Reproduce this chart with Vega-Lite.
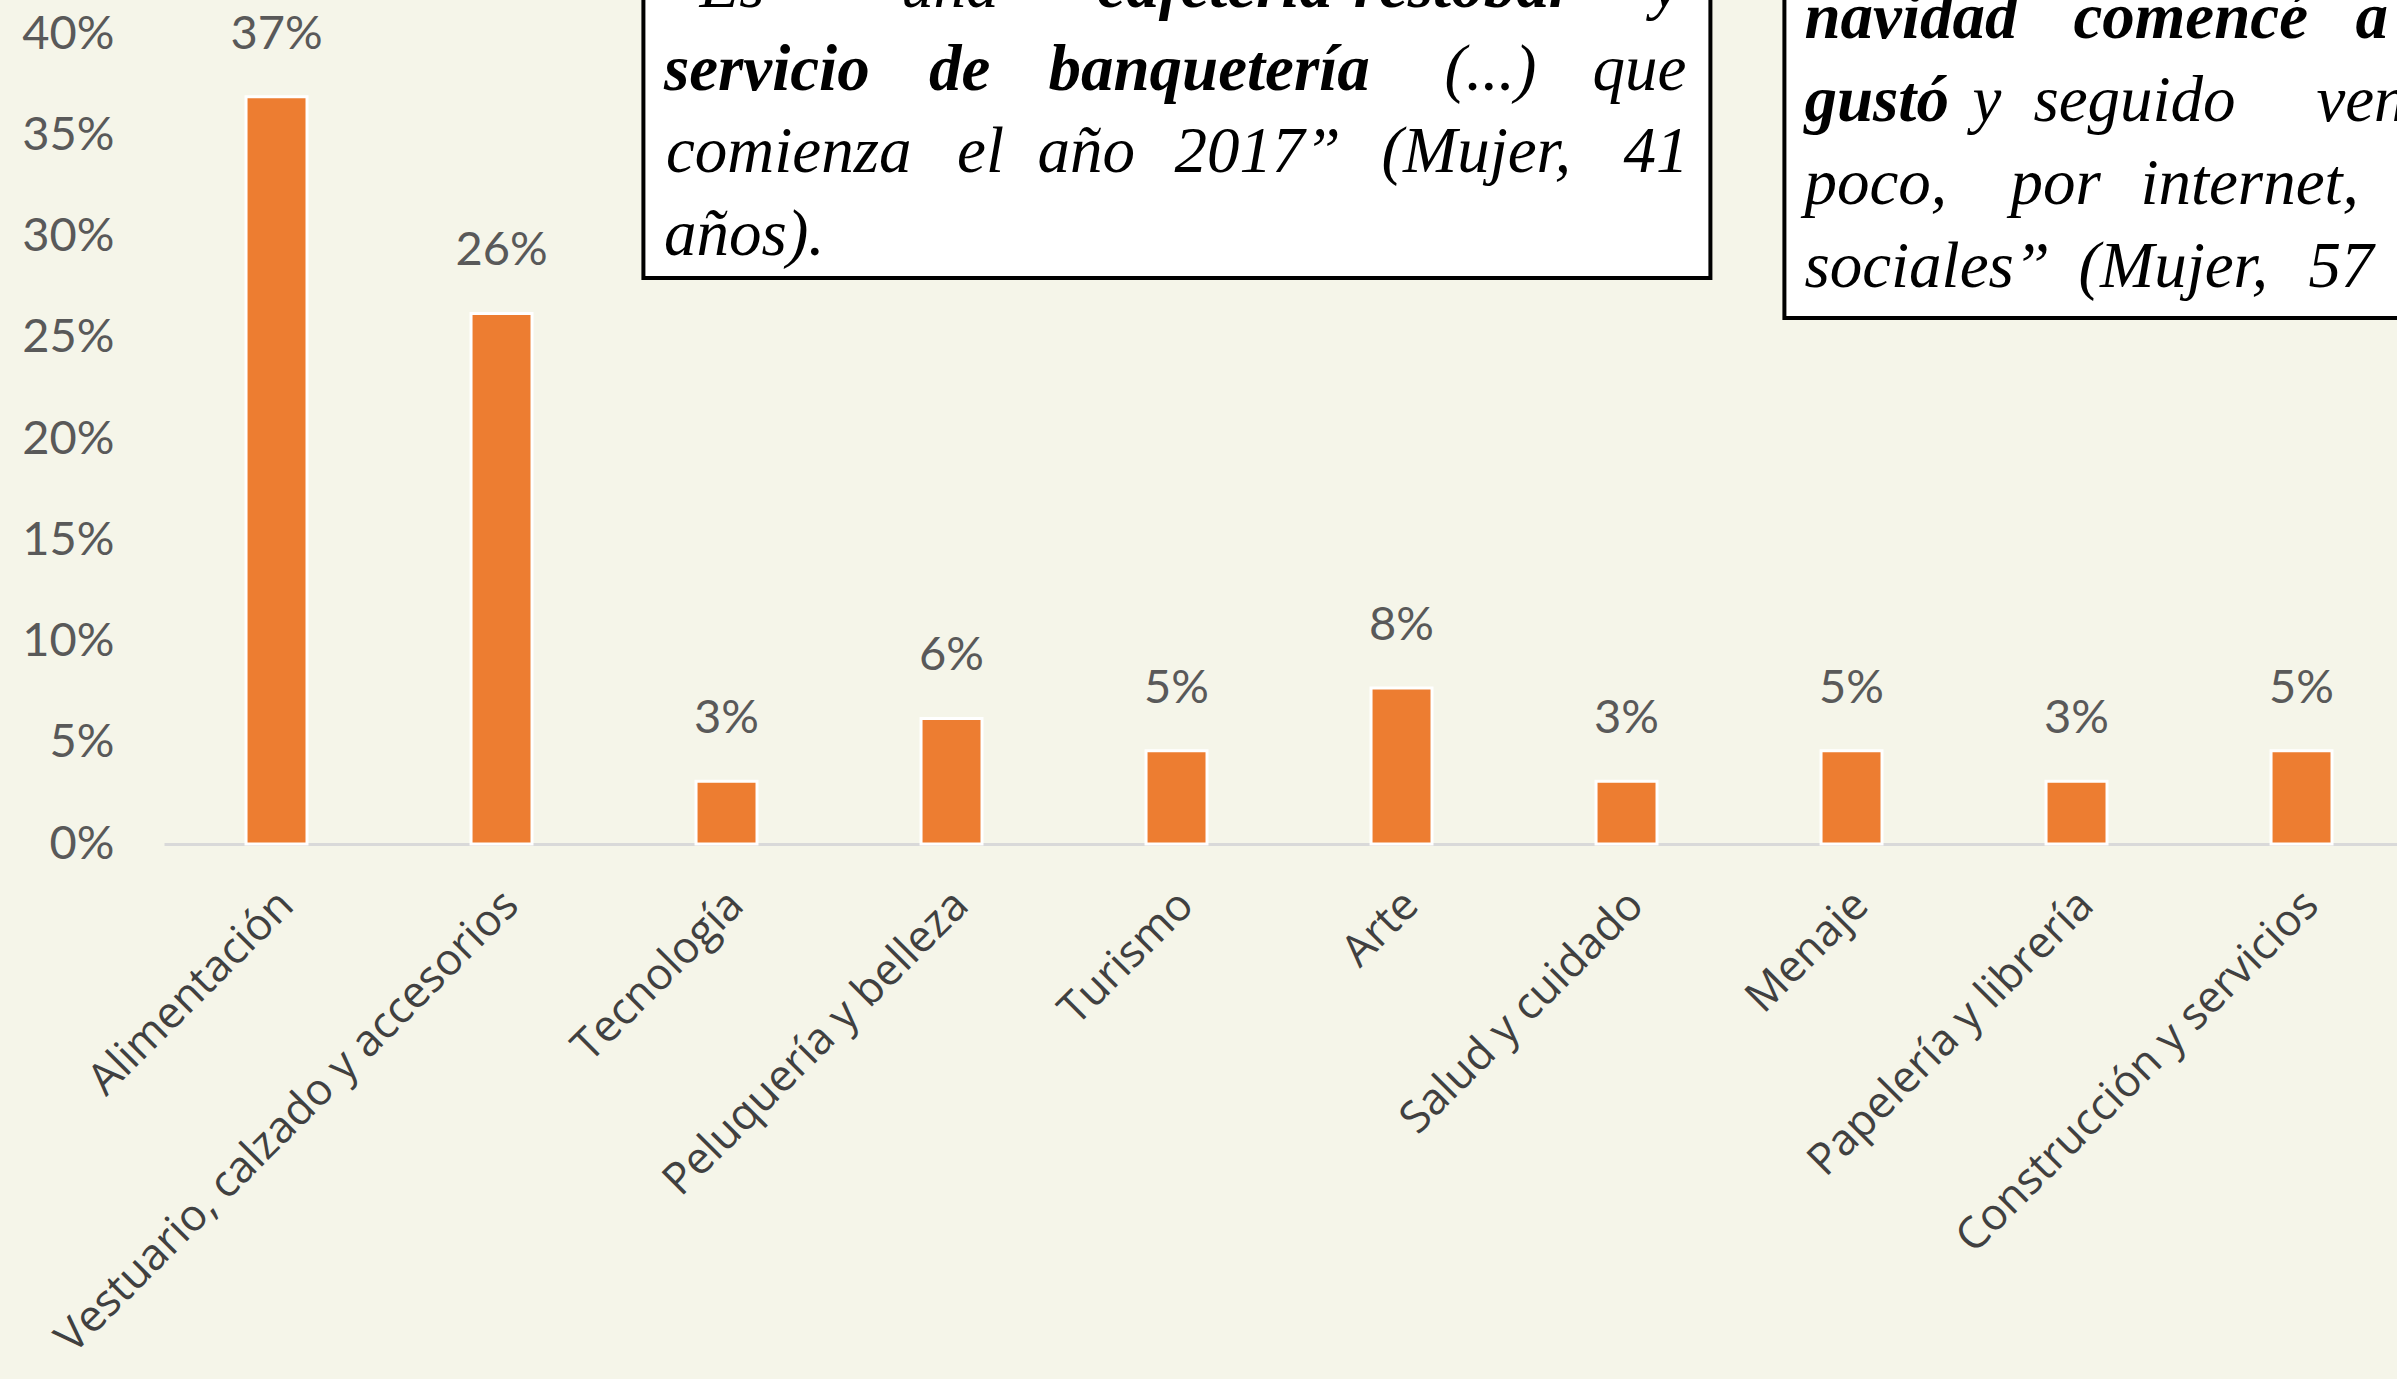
{
  "$schema": "https://vega.github.io/schema/vega-lite/v6.json",
  "width": 2233,
  "height": 810,
  "autosize": {"type": "none"},
  "padding": {"left": 164, "top": 34, "right": 0, "bottom": 535},
  "background": "#F5F5E9",
  "config": {"view": {"stroke": null}},
  "datasets": {
    "bars": [
      {"categoria": "Alimentación", "pct": 0.369},
      {"categoria": "Vestuario, calzado y accesorios", "pct": 0.262},
      {"categoria": "Tecnología", "pct": 0.031},
      {"categoria": "Peluquería y belleza", "pct": 0.062},
      {"categoria": "Turismo", "pct": 0.046},
      {"categoria": "Arte", "pct": 0.077},
      {"categoria": "Salud y cuidado", "pct": 0.031},
      {"categoria": "Menaje", "pct": 0.046},
      {"categoria": "Papelería y librería", "pct": 0.031},
      {"categoria": "Construcción y servicios", "pct": 0.046}
    ],
    "boxes": [
      {"u1": 2.1307, "u2": 6.8729, "v1": 0.27951, "v2": 0.4464},
      {"u1": 7.2018, "u2": 10.384, "v1": 0.25975, "v2": 0.4464}
    ],
    "notes": [
      {"t": "“Es", "u": 2.2196, "v": 0.41333, "b": false},
      {"t": "una", "u": 3.2756, "v": 0.41333, "b": false},
      {"t": "cafetería-restobar", "u": 4.1484, "v": 0.41333, "b": true},
      {"t": "y", "u": 6.611, "v": 0.41333, "b": false},
      {"t": "servicio", "u": 2.2218, "v": 0.37235, "b": true},
      {"t": "de", "u": 3.4004, "v": 0.37235, "b": true},
      {"t": "banquetería", "u": 3.9307, "v": 0.37235, "b": true},
      {"t": "(...)", "u": 5.6907, "v": 0.37235, "b": false},
      {"t": "que", "u": 6.3484, "v": 0.37235, "b": false},
      {"t": "comienza", "u": 2.2311, "v": 0.33185, "b": false},
      {"t": "el", "u": 3.5249, "v": 0.33185, "b": false},
      {"t": "año", "u": 3.8818, "v": 0.33185, "b": false},
      {"t": "2017”", "u": 4.4907, "v": 0.33185, "b": false},
      {"t": "(Mujer,", "u": 5.4107, "v": 0.33185, "b": false},
      {"t": "41", "u": 6.4862, "v": 0.33185, "b": false},
      {"t": "años).", "u": 2.2218, "v": 0.29086, "b": false},
      {"t": "navidad", "u": 7.2907, "v": 0.39802, "b": true},
      {"t": "comencé", "u": 8.4862, "v": 0.39802, "b": true},
      {"t": "a", "u": 9.7396, "v": 0.39802, "b": true},
      {"t": "gustó", "u": 7.2907, "v": 0.35704, "b": true},
      {"t": "y", "u": 8.0373, "v": 0.35704, "b": false},
      {"t": "seguido", "u": 8.3084, "v": 0.35704, "b": false},
      {"t": "vendiendo", "u": 9.5662, "v": 0.35704, "b": false},
      {"t": "poco,", "u": 7.2907, "v": 0.31605, "b": false},
      {"t": "por", "u": 8.2062, "v": 0.31605, "b": false},
      {"t": "internet,", "u": 8.784, "v": 0.31605, "b": false},
      {"t": "sociales”", "u": 7.2907, "v": 0.27506, "b": false},
      {"t": "(Mujer,", "u": 8.5084, "v": 0.27506, "b": false},
      {"t": "57", "u": 9.5307, "v": 0.27506, "b": false}
    ]
  },
  "layer": [
    {
      "data": {"name": "bars"},
      "encoding": {
        "x": {
          "field": "categoria",
          "type": "nominal",
          "sort": null,
          "scale": {"paddingInner": 0.729, "paddingOuter": 0.3267, "align": 0.558},
          "axis": {
            "title": null,
            "labelAngle": -45,
            "labelAlign": "right",
            "labelBaseline": "middle",
            "labelFont": "Open Sans",
            "labelFontSize": 44,
            "labelColor": "#404040",
            "labelPadding": 54,
            "labelOffset": 10,
            "labelLimit": 2000,
            "ticks": false,
            "domainColor": "#D9D9D9",
            "domainWidth": 3
          }
        },
        "y": {
          "field": "pct",
          "type": "quantitative",
          "scale": {"domain": [0, 0.4], "nice": false},
          "axis": {
            "title": null,
            "values": [0, 0.05, 0.1, 0.15, 0.2, 0.25, 0.3, 0.35, 0.4],
            "format": ".0%",
            "labelFont": "Lato",
            "labelFontSize": 47,
            "labelColor": "#595959",
            "labelPadding": 50,
            "grid": false,
            "domain": false,
            "ticks": false
          }
        }
      },
      "layer": [
        {"mark": {"type": "bar", "color": "#ED7D31", "stroke": "#FFFFFF", "strokeWidth": 3}},
        {
          "mark": {"type": "text", "font": "Lato", "fontSize": 47, "color": "#595959", "baseline": "alphabetic", "dy": -48},
          "encoding": {"text": {"field": "pct", "type": "quantitative", "format": ".0%"}}
        }
      ]
    },
    {
      "layer": [
        {
          "data": {"name": "boxes"},
          "mark": {"type": "rect", "fill": "#FFFFFF", "stroke": "#000000", "strokeWidth": 4},
          "encoding": {
            "x": {"field": "u1", "type": "quantitative", "scale": {"domain": [0, 9.92444], "nice": false, "zero": false}, "axis": null},
            "x2": {"field": "u2"},
            "y": {"field": "v1", "type": "quantitative", "scale": {"domain": [0, 0.4], "nice": false}, "axis": null},
            "y2": {"field": "v2"}
          }
        },
        {
          "data": {"name": "notes"},
          "transform": [{"filter": "datum.b"}],
          "mark": {"type": "text", "font": "Liberation Serif", "fontStyle": "italic", "fontWeight": "bold", "fontSize": 65, "color": "#000000", "align": "left", "baseline": "alphabetic"},
          "encoding": {
            "x": {"field": "u", "type": "quantitative", "scale": {"domain": [0, 9.92444], "nice": false, "zero": false}, "axis": null},
            "y": {"field": "v", "type": "quantitative", "scale": {"domain": [0, 0.4], "nice": false}, "axis": null},
            "text": {"field": "t"}
          }
        },
        {
          "data": {"name": "notes"},
          "transform": [{"filter": "!datum.b"}],
          "mark": {"type": "text", "font": "Liberation Serif", "fontStyle": "italic", "fontSize": 65, "color": "#000000", "align": "left", "baseline": "alphabetic"},
          "encoding": {
            "x": {"field": "u", "type": "quantitative", "scale": {"domain": [0, 9.92444], "nice": false, "zero": false}, "axis": null},
            "y": {"field": "v", "type": "quantitative", "scale": {"domain": [0, 0.4], "nice": false}, "axis": null},
            "text": {"field": "t"}
          }
        }
      ]
    }
  ],
  "resolve": {"scale": {"x": "independent", "y": "independent"}}
}
